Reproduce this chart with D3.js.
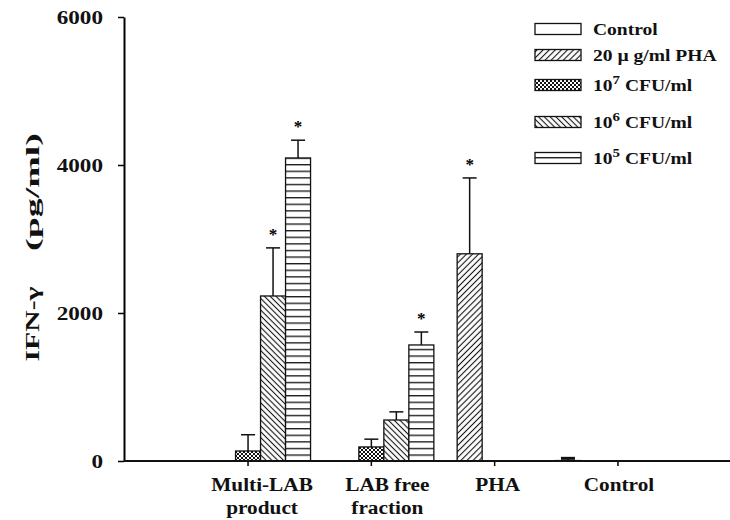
<!DOCTYPE html>
<html>
<head>
<meta charset="utf-8">
<script src="https://cdn.jsdelivr.net/npm/d3@7/dist/d3.min.js"></script>
<style>
  body { margin: 0; background: #fff; }
  svg { display: block; }
</style>
</head>
<body>
<div id="chart"></div>
<script>
// --- data ---
const CATEGORIES = ["Multi-LAB product", "LAB free fraction", "PHA", "Control"];
const CAT_LINES = [["Multi-LAB", "product"], ["LAB free", "fraction"], ["PHA"], ["Control"]];
const SERIES = ["control", "pha", "cfu7", "cfu6", "cfu5"];
const Y_TICKS = [0, 2000, 4000, 6000];

const VAL_CONTROL = [0, 0, 0, 6];
const VAL_PHA     = [0, 0, 2800, 0];
const VAL_CFU7    = [135, 190, 0, 0];
const VAL_CFU6    = [2230, 554, 0, 0];
const VAL_CFU5    = [4095, 1568, 0, 0];

const ERR_CONTROL = [0, 0, 0, 30];
const ERR_PHA     = [0, 0, 1025, 0];
const ERR_CFU7    = [220, 105, 0, 0];
const ERR_CFU6    = [650, 110, 0, 0];
const ERR_CFU5    = [240, 175, 0, 0];

const STAR_CONTROL = [false, false, false, false];
const STAR_PHA     = [false, false, true, false];
const STAR_CFU7    = [false, false, false, false];
const STAR_CFU6    = [true, false, false, false];
const STAR_CFU5    = [true, true, false, false];

const VALUES = [VAL_CONTROL, VAL_PHA, VAL_CFU7, VAL_CFU6, VAL_CFU5];
const ERRORS = [ERR_CONTROL, ERR_PHA, ERR_CFU7, ERR_CFU6, ERR_CFU5];
const STARS  = [STAR_CONTROL, STAR_PHA, STAR_CFU7, STAR_CFU6, STAR_CFU5];

// --- layout ---
const W = 730, H = 520;
const FONT = "'Liberation Serif', 'Times New Roman', serif";
const svg = d3.select("#chart").append("svg").attr("width", W).attr("height", H);

const y = d3.scaleLinear().domain([0, 6000]).range([461, 17]);
const x = d3.scaleBand().domain(CATEGORIES).range([186.4, 679.6]);
const xs = d3.scaleBand().domain(SERIES).range([-62.5, 62.5]);
const cx = c => x(c) + x.bandwidth() / 2;

// hatch patterns
const defs = svg.append("defs");
function lines(id, w, angle, sw) {
  const p = defs.append("pattern").attr("id", id)
    .attr("patternUnits", "userSpaceOnUse")
    .attr("width", w).attr("height", w)
    .attr("patternTransform", `rotate(${angle})`);
  p.append("rect").attr("width", w).attr("height", w).attr("fill", "#fff");
  p.append("line").attr("x1", w / 2).attr("x2", w / 2).attr("y1", 0).attr("y2", w)
    .attr("stroke", "#111").attr("stroke-width", sw);
}
lines("p-pha", 4.3, 45, 1.1);
lines("p-cfu6", 4.1, -45, 1.1);
{
  const p = defs.append("pattern").attr("id", "p-cfu7")
    .attr("patternUnits", "userSpaceOnUse").attr("width", 4).attr("height", 4);
  p.append("rect").attr("width", 4).attr("height", 4).attr("fill", "#fff");
  p.append("path").attr("d", "M0,0L4,4M4,0L0,4").attr("stroke", "#111").attr("stroke-width", 1);
}
{
  const p = defs.append("pattern").attr("id", "p-cfu5")
    .attr("patternUnits", "userSpaceOnUse").attr("width", 10).attr("height", 6.6)
    .attr("y", 461);
  p.append("rect").attr("width", 10).attr("height", 6.6).attr("fill", "#fff");
  p.append("line").attr("x1", 0).attr("x2", 10).attr("y1", 0.7).attr("y2", 0.7)
    .attr("stroke", "#111").attr("stroke-width", 1.3);
}
const FILL = { control: "#fff", pha: "url(#p-pha)", cfu7: "url(#p-cfu7)", cfu6: "url(#p-cfu6)", cfu5: "url(#p-cfu5)" };

// one row per bar
const rows = [];
SERIES.forEach((s, si) => CATEGORIES.forEach((c, ci) => {
  rows.push({ s, c, v: VALUES[si][ci], e: ERRORS[si][ci], star: STARS[si][ci] });
}));

const bx = d => cx(d.c) + xs(d.s);

svg.append("g").selectAll("rect")
  .data(rows.filter(d => d.v > 0))
  .join("rect")
    .attr("x", bx).attr("width", xs.bandwidth())
    .attr("y", d => y(d.v)).attr("height", d => y(0) - y(d.v))
    .attr("fill", d => FILL[d.s])
    .attr("stroke", "#111").attr("stroke-width", 1.3);

// error bars (upper half only)
const eb = svg.append("g").attr("stroke", "#111").attr("stroke-width", 1.5);
const withErr = rows.filter(d => d.e > 0);
eb.selectAll("line.v").data(withErr).join("line").attr("class", "v")
  .attr("x1", d => bx(d) + xs.bandwidth() / 2).attr("x2", d => bx(d) + xs.bandwidth() / 2)
  .attr("y1", d => y(d.v)).attr("y2", d => y(d.v + d.e));
eb.selectAll("line.c").data(withErr).join("line").attr("class", "c")
  .attr("x1", d => bx(d) + xs.bandwidth() / 2 - 7).attr("x2", d => bx(d) + xs.bandwidth() / 2 + 7)
  .attr("y1", d => y(d.v + d.e)).attr("y2", d => y(d.v + d.e))
  .attr("stroke-width", d => d.s === "control" ? 3 : 1.5);

svg.append("g").selectAll("text")
  .data(rows.filter(d => d.star))
  .join("text")
    .attr("x", d => bx(d) + xs.bandwidth() / 2)
    .attr("y", d => y(d.v + d.e) - 8)
    .attr("text-anchor", "middle")
    .attr("font-family", FONT).attr("font-weight", "bold").attr("font-size", 17)
    .text("*");

// axes
const yAxis = svg.append("g").attr("transform", "translate(124,0)")
  .call(d3.axisLeft(y).tickValues(Y_TICKS).tickFormat(d3.format("d"))
    .tickSize(6).tickSizeOuter(0).tickPadding(11.2));
yAxis.select(".domain").attr("stroke-width", 2);
yAxis.selectAll(".tick line").attr("stroke-width", 1.5);
yAxis.selectAll(".tick text")
  .attr("font-family", FONT).attr("font-weight", "bold").attr("font-size", 19)
  .attr("fill", "#111")
  .attr("transform", "scale(1.22,1)");

const xAxis = svg.append("g").attr("transform", `translate(0,${y(0)})`)
  .call(d3.axisBottom(x).tickSize(5).tickFormat(""));
xAxis.select(".domain").remove();
xAxis.selectAll(".tick line").attr("stroke-width", 1.5);
svg.append("line").attr("x1", 124).attr("x2", W).attr("y1", y(0)).attr("y2", y(0))
  .attr("stroke", "#111").attr("stroke-width", 2);

const LABEL_SHIFT = [14, 16, 3, 1];
const catG = svg.append("g").selectAll("g")
  .data(CATEGORIES)
  .join("g")
    .attr("transform", (c, i) => `translate(${cx(c) + LABEL_SHIFT[i]},491) scale(1.12,1)`);
catG.selectAll("text")
  .data((c, i) => CAT_LINES[i])
  .join("text")
    .attr("y", (t, j) => j * 23)
    .attr("text-anchor", "middle")
    .attr("font-family", FONT).attr("font-weight", "bold").attr("font-size", 19)
    .attr("fill", "#111")
    .text(t => t);

// y label
const yl = svg.append("g").attr("font-family", FONT).attr("font-weight", "bold")
  .attr("font-size", 19).attr("fill", "#111");
yl.append("text")
  .attr("transform", "translate(39,324) rotate(-90)")
  .attr("text-anchor", "middle")
  .attr("textLength", 75).attr("lengthAdjust", "spacingAndGlyphs")
  .text("IFN-γ");
yl.append("text")
  .attr("transform", "translate(39,192) rotate(-90)")
  .attr("text-anchor", "middle")
  .attr("textLength", 118).attr("lengthAdjust", "spacingAndGlyphs")
  .text("(pg/ml)");

// legend
const LEGEND_ROWS = [29, 55, 85, 122, 158];
const leg = svg.append("g").selectAll("g")
  .data(SERIES)
  .join("g")
    .attr("transform", (s, i) => `translate(535,${LEGEND_ROWS[i]})`);
leg.append("rect")
  .attr("x", 0).attr("y", -5.5).attr("width", 46).attr("height", 11)
  .attr("fill", s => FILL[s]).attr("stroke", "#111").attr("stroke-width", 1.3);
const lt = leg.append("g").attr("transform", "translate(58,6) scale(1.15,1)")
  .append("text")
    .attr("font-family", FONT).attr("font-weight", "bold").attr("font-size", 17)
    .attr("fill", "#111");
lt.each(function (s) {
  const t = d3.select(this);
  if (s === "control") t.text("Control");
  else if (s === "pha") t.text("20 µ g/ml PHA");
  else {
    const exp = { cfu7: "7", cfu6: "6", cfu5: "5" }[s];
    t.append("tspan").text("10");
    t.append("tspan").attr("dy", -7).attr("font-size", 13).text(exp);
    t.append("tspan").attr("dy", 7).text(" CFU/ml");
  }
});
</script>
</body>
</html>
